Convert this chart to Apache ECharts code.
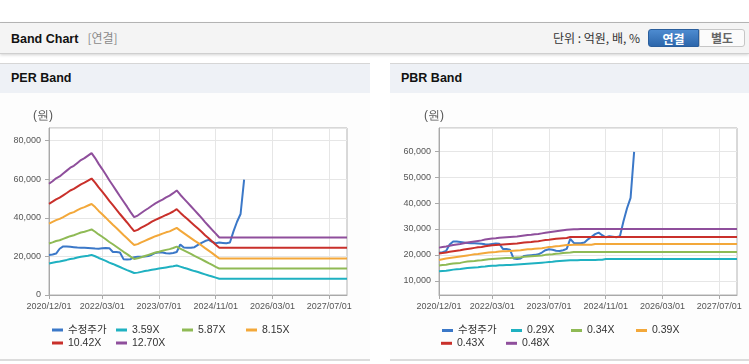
<!DOCTYPE html>
<html>
<head>
<meta charset="utf-8">
<script src="https://cdn.jsdelivr.net/npm/echarts@6/dist/echarts.min.js"></script>
<style>
html,body{margin:0;padding:0;background:#fff;width:749px;height:364px;overflow:hidden;font-family:"Liberation Sans","Noto Sans CJK KR",sans-serif;}
.abs{position:absolute;}
#topline{left:0;top:22px;width:749px;height:1px;background:#b9b9b9;}
#hdr{left:0;top:23px;width:749px;height:30px;background:#f4f4f4;border-bottom:1px solid #cfcfcf;box-shadow:0 1px 3px rgba(0,0,0,0.18);}
#hdrTitle{left:11px;top:23px;height:30px;line-height:30px;font-size:12.5px;font-weight:bold;color:#111;white-space:nowrap;}
#hdrTitle span{font-weight:normal;color:#8a8a8a;font-size:12px;margin-left:9px;font-family:"Noto Sans CJK KR",sans-serif;}
#unit{left:553px;top:23px;height:30px;line-height:30px;font-size:12px;color:#333;white-space:nowrap;font-family:"Noto Sans CJK KR",sans-serif;}
#btn1{left:648px;top:29px;width:51px;height:18px;line-height:18px;text-align:center;font-size:12px;font-weight:bold;color:#fff;background:linear-gradient(#4d8bd0,#2c66ab);border:1px solid #2a5e9c;border-radius:3px 0 0 3px;font-family:"Noto Sans CJK KR",sans-serif;box-sizing:border-box;}
#btn2{left:699px;top:29px;width:46px;height:18px;line-height:16px;text-align:center;font-size:12px;font-weight:bold;color:#666;background:#fbfbfb;border:1px solid #c6c6c6;border-radius:0 3px 3px 0;font-family:"Noto Sans CJK KR",sans-serif;box-sizing:border-box;}
.panel{top:63px;height:295px;border-top:1px solid #d6d6d6;border-bottom:2px solid #dcdcdc;background:#fdfdfd;}
.phead{left:0;top:0;right:0;height:29px;background:#eef1f6;}
.ptitle{top:64px;height:29px;line-height:29px;font-size:12.5px;font-weight:bold;color:#111;white-space:nowrap;}
#chart{left:0;top:0;width:749px;height:364px;z-index:5;}
</style>
</head>
<body>
<div id="topline" class="abs"></div>
<div id="hdr" class="abs"></div>
<div id="hdrTitle" class="abs">Band Chart<span>[연결]</span></div>
<div id="unit" class="abs">단위 : 억원, 배, %</div>
<div id="btn1" class="abs">연결</div>
<div id="btn2" class="abs">별도</div>
<div class="abs panel" style="left:0;width:370px;"><div class="abs phead"></div></div>
<div class="abs panel" style="left:390px;width:359px;"><div class="abs phead"></div></div>
<div class="abs ptitle" style="left:11px;">PER Band</div>
<div class="abs ptitle" style="left:401px;">PBR Band</div>
<div id="chart" class="abs"></div>
<script>
// ---- data ----
const xTickLabels = ['2020/12/01','2022/03/01','2023/07/01','2024/11/01','2026/03/01','2027/07/01'];
const firstMonth = [2020, 12];
const monthCount = 85; // 2020/12 .. 2027/12

const priceName = '수정주가';
const perNames = ['3.59X','5.87X','8.15X','10.42X','12.70X'];
const pbrNames = ['0.29X','0.34X','0.39X','0.43X','0.48X'];

const price = [
20800,21000,21500,24000,25200,25200,25000,24800,24600,24500,
24500,24400,24300,24100,24000,24200,24400,24300,22300,22300,
22000,18600,18400,18600,19600,19800,19900,20000,20200,20900,
21800,22200,22000,21600,21500,21800,22300,26200,24600,24500,
24500,24800,26000,27000,28000,28600,27600,26800,27200,27000,
26800,27200,33000,38000,42000,59800];

const per359 = [
16300,16700,17100,17400,17800,18200,18700,18900,19400,19800,
20100,20400,20800,20100,19200,18500,17700,16800,16100,15300,
14500,13700,12900,12200,11400,11600,12000,12400,12700,13100,
13400,13700,14000,14300,14600,14900,15300,14700,14100,13600,
13000,12400,11900,11300,10700,10100,9600,9000,
8400,8400,8400,8400,8400,8400,8400,8400,8400,8400,
8400,8400,8400,8400,8400,8400,8400,8400,8400,8400,
8400,8400,8400,8400,8400,8400,8400,8400,8400,8400,
8400,8400,8400,8400,8400,8400,8400];
const per587 = [
26700,27300,28000,28400,29100,29800,30500,31000,31700,32400,
32800,33400,34000,32800,31400,30200,28900,27500,26300,25000,
23700,22400,21200,19900,18700,19000,19600,20200,20800,21400,
22000,22400,22900,23400,23800,24400,25100,24000,23100,22200,
21300,20300,19400,18500,17500,16500,15600,14600,
13700,13700,13700,13700,13700,13700,13700,13700,13700,13700,
13700,13700,13700,13700,13700,13700,13700,13700,13700,13700,
13700,13700,13700,13700,13700,13700,13700,13700,13700,13700,
13700,13700,13700,13700,13700,13700,13700];
const per815 = [
37000,37900,38800,39500,40400,41400,42400,43000,44000,44900,
45600,46400,47200,45600,43600,41900,40100,38200,36400,34700,
32900,31100,29400,27600,25900,26400,27300,28100,28900,29700,
30500,31100,31800,32500,33000,33900,34800,33400,32100,30800,
29500,28200,27000,25700,24300,23000,21700,20300,
18900,18900,18900,18900,18900,18900,18900,18900,18900,18900,
18900,18900,18900,18900,18900,18900,18900,18900,18900,18900,
18900,18900,18900,18900,18900,18900,18900,18900,18900,18900,
18900,18900,18900,18900,18900,18900,18900];
const per1042 = [
47300,48400,49600,50500,51700,52900,54200,55000,56200,57400,
58300,59300,60400,58300,55800,53600,51300,48800,46600,44300,
42000,39800,37600,35300,33100,33800,34900,35900,36900,38000,
39000,39800,40600,41500,42300,43300,44500,42700,41000,39400,
37700,36100,34500,32800,31000,29400,27700,26100,
24500,24500,24500,24500,24500,24500,24500,24500,24500,24500,
24500,24500,24500,24500,24500,24500,24500,24500,24500,24500,
24500,24500,24500,24500,24500,24500,24500,24500,24500,24500,
24500,24500,24500,24500,24500,24500,24500];
const per1270 = [
57700,59000,60500,61500,63000,64500,66000,67000,68500,70000,
71000,72300,73600,71000,68000,65300,62500,59500,56800,54000,
51200,48500,45800,43000,40400,41200,42500,43800,45000,46300,
47500,48500,49500,50600,51500,52800,54200,52000,50000,48000,
46000,44000,42000,40000,37800,35800,33800,31800,
29800,29800,29800,29800,29800,29800,29800,29800,29800,29800,
29800,29800,29800,29800,29800,29800,29800,29800,29800,29800,
29800,29800,29800,29800,29800,29800,29800,29800,29800,29800,
29800,29800,29800,29800,29800,29800,29800];

const pbr029 = [
13700,13800,13900,14100,14300,14400,14500,14700,14900,15000,
15100,15200,15400,15500,15700,15800,15800,16000,16000,16100,
16100,16200,16300,16400,16500,16600,16700,16800,16900,17000,
17100,17200,17300,17500,17600,17700,17800,17900,17900,17900,
18000,18000,18000,18000,18000,18100,18100,
18400,18400,18400,18400,18400,18400,18400,18400,18400,18400,
18400,18400,18400,18400,18400,18400,18400,18400,18400,18400,
18400,18400,18400,18400,18400,18400,18400,18400,18400,18400,
18400,18400,18400,18400,18400,18400,18400,18400];
const pbr034 = [
15900,16100,16200,16500,16700,16800,16900,17200,17400,17500,
17600,17800,17900,18100,18300,18400,18500,18600,18700,18800,
18800,18900,19000,19100,19300,19400,19500,19600,19700,19800,
20000,20100,20200,20400,20500,20700,20800,20900,
21100,21100,21100,21100,21100,21100,21100,21100,21100,21100,
21100,21100,21100,21100,21100,21100,21100,21100,21100,21100,
21100,21100,21100,21100,21100,21100,21100,21100,21100,21100,
21100,21100,21100,21100,21100,21100,21100,21100,21100,21100,
21100,21100,21100,21100,21100,21100,21100];
const pbr039 = [
18000,18300,18600,18800,19000,19200,19400,19600,19800,20000,
20200,20300,20500,20700,20900,21000,21100,21300,21400,21400,
21500,21600,21700,21800,22000,22200,22200,22400,22500,22600,
22800,23000,23100,23300,23400,23600,23800,23800,23900,23900,
23900,23900,23900,23900,
24200,24200,24200,24200,24200,24200,24200,24200,24200,24200,
24200,24200,24200,24200,24200,24200,24200,24200,24200,24200,
24200,24200,24200,24200,24200,24200,24200,24200,24200,24200,
24200,24200,24200,24200,24200,24200,24200,24200,24200,24200,
24200];
const pbr043 = [
20500,20700,20900,21200,21400,21600,21800,22100,22300,22500,
22700,22900,23000,23300,23500,23700,23800,23900,24000,24100,
24200,24300,24400,24600,24800,24900,25000,25200,25300,25500,
25700,25800,26000,26200,26300,26400,26500,
26900,26900,26900,26900,26900,26900,26900,26900,26900,26900,
26900,26900,26900,26900,26900,26900,26900,26900,26900,26900,
26900,26900,26900,26900,26900,26900,26900,26900,26900,26900,
26900,26900,26900,26900,26900,26900,26900,26900,26900,26900,
26900,26900,26900,26900,26900,26900,26900,26900];
const pbr048 = [
22800,23000,23200,23500,23800,24000,24200,24500,24800,25000,
25200,25400,25600,25900,26100,26300,26400,26600,26700,26800,
26900,27000,27100,27300,27500,27700,27800,28000,28100,28300,
28500,28700,28900,29100,29300,29500,29700,29800,29900,29900,
30000,30000,30000,30000,30000,30000,30000,30000,30000,30000,
30000,30000,30000,30000,30000,30000,30000,30000,30000,30000,
30000,30000,30000,30000,30000,30000,30000,30000,30000,30000,
30000,30000,30000,30000,30000,30000,30000,30000,30000,30000,
30000,30000,30000,30000,30000];

// ---- build ----
const months = [];
for (let i = 0; i < monthCount; i++) {
  const m0 = firstMonth[1] - 1 + i;
  const y = firstMonth[0] + Math.floor(m0 / 12);
  const m = (m0 % 12) + 1;
  months.push(y + '/' + String(m).padStart(2, '0') + '/01');
}
const colors = ['#3b78c8','#1fb1c1','#8fba55','#f3a83a','#c9302b','#8f4f9c'];
const FONT = "'Liberation Sans','Noto Sans CJK KR',sans-serif";
const showAt = (idx, val) => xTickLabels.indexOf(months[idx]) >= 0;

function xAxis(gi) {
  return {
    type: 'category', gridIndex: gi, data: months, boundaryGap: false,
    axisLine: {lineStyle: {color: '#a9a9a9', width: 1}},
    axisTick: {show: true, interval: showAt, length: 4, lineStyle: {color: '#a9a9a9'}},
    axisLabel: {interval: showAt, color: '#555', fontSize: 9, fontFamily: FONT, margin: 7},
    splitLine: {show: true, interval: showAt, lineStyle: {color: '#e6e6e6', width: 1}}
  };
}
function yAxis(gi, extra) {
  return Object.assign({
    type: 'value', gridIndex: gi,
    axisLine: {show: true, lineStyle: {color: '#a9a9a9', width: 1}},
    axisTick: {show: true, length: 4, lineStyle: {color: '#a9a9a9'}},
    axisLabel: {color: '#555', fontSize: 9, fontFamily: FONT, margin: 8,
      showMinLabel: gi === 0, showMaxLabel: false,
      formatter: v => Number(v).toLocaleString('en-US')},
    splitLine: {show: true, lineStyle: {color: '#e6e6e6', width: 1}}
  }, extra);
}
function line(name, data, color, gi) {
  return {
    type: 'line', name: name, data: data, xAxisIndex: gi, yAxisIndex: gi,
    symbol: 'none', showSymbol: false, smooth: false, animation: false,
    lineStyle: {color: color, width: 2}, itemStyle: {color: color},
    emphasis: {disabled: true}
  };
}
const series = [
  line(priceName, price, colors[0], 0),
  line(perNames[0], per359, colors[1], 0),
  line(perNames[1], per587, colors[2], 0),
  line(perNames[2], per815, colors[3], 0),
  line(perNames[3], per1042, colors[4], 0),
  line(perNames[4], per1270, colors[5], 0),
  line(priceName, price, colors[0], 1),
  line(pbrNames[0], pbr029, colors[1], 1),
  line(pbrNames[1], pbr034, colors[2], 1),
  line(pbrNames[2], pbr039, colors[3], 1),
  line(pbrNames[3], pbr043, colors[4], 1),
  line(pbrNames[4], pbr048, colors[5], 1)
];
function leg(name, x, y) {
  return {
    data: [name], left: x, top: y - 6.5, padding: 0, icon: 'rect',
    itemWidth: 11, itemHeight: 3, selectedMode: false,
    textStyle: {fontSize: 10.5, color: '#333', fontFamily: FONT, lineHeight: 13}
  };
}
const legends = [
  leg(priceName, 52, 330), leg(perNames[0], 116, 330), leg(perNames[1], 182, 330), leg(perNames[2], 246, 330),
  leg(perNames[3], 52, 343), leg(perNames[4], 116, 343),
  leg(priceName, 442, 330.5), leg(pbrNames[0], 511, 330.5), leg(pbrNames[1], 571, 330.5), leg(pbrNames[2], 636, 330.5),
  leg(pbrNames[3], 441, 343.3), leg(pbrNames[4], 506, 343.3)
];

const chart = echarts.init(document.getElementById('chart'), null, {renderer: 'canvas'});
chart.setOption({
  animation: false,
  backgroundColor: 'transparent',
  grid: [
    {left: 49, top: 128, width: 298, height: 167, show: true, borderColor: '#b3b3b3', borderWidth: 1, backgroundColor: '#fff'},
    {left: 439, top: 128, width: 298, height: 167, show: true, borderColor: '#b3b3b3', borderWidth: 1, backgroundColor: '#fff'}
  ],
  xAxis: [xAxis(0), xAxis(1)],
  yAxis: [
    yAxis(0, {min: 0, max: 86600, interval: 20000}),
    yAxis(1, {min: 4500, max: 69000})
  ],
  legend: legends,
  graphic: [
    {type: 'text', left: 33, top: 110, style: {text: '(원)', fontSize: 12, fill: '#555', font: '12px ' + FONT}},
    {type: 'text', left: 424, top: 110, style: {text: '(원)', fontSize: 12, fill: '#555', font: '12px ' + FONT}}
  ],
  series: series
});
</script>
</body>
</html>
